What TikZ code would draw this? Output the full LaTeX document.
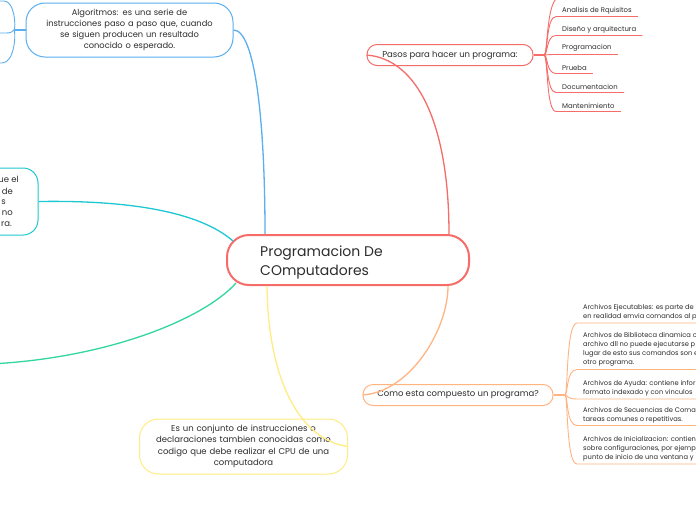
\documentclass[tikz,border=0pt]{standalone}
\usepackage{fontspec}
\setmainfont{Poppins}
\usetikzlibrary{calc}
\definecolor{ink}{RGB}{45,45,45}
\definecolor{cred}{RGB}{245,108,104}
\definecolor{corange}{RGB}{255,180,130}
\definecolor{cblue}{RGB}{90,175,240}
\definecolor{cteal}{RGB}{30,200,210}
\definecolor{cgreen}{RGB}{50,215,160}
\definecolor{cyellow}{RGB}{255,236,130}
\begin{document}
\begin{tikzpicture}[x={(1pt,0pt)},y={(0pt,-1pt)},
  pill/.style={draw=#1, line width=1pt, rounded corners=10pt, minimum height=21pt, inner sep=0pt, text=ink, font=\fontsize{8.5}{11}\selectfont},
  bigbox/.style={draw=#1, line width=1pt, rounded corners=19pt, inner xsep=8pt, inner ysep=0pt, align=center, text=ink, font=\fontsize{8.3}{11}\selectfont},
  leaf/.style={anchor=south west, inner xsep=6pt, inner ysep=2.5pt, align=left, text=ink, font=\fontsize{6.9}{9}\selectfont},
  cleaf/.style={leaf, font=\fontsize{6.7}{9}\selectfont},
  frag/.style={anchor=east, inner sep=0pt, text=ink, font=\fontsize{8.5}{11}\selectfont},
  conn/.style={draw=#1, line width=1.3pt},
  thin/.style={draw=#1, line width=0.9pt},
]
\useasboundingbox[fill=white] (0,0) rectangle (696,520);

% central node
\node[draw=cred, line width=2pt, rounded corners=22pt, minimum width=242pt, minimum height=50pt] (root) at (348,260) {};
\node[anchor=west, align=left, inner sep=0pt, text=ink, font=\fontsize{14}{19}\selectfont] (roottxt) at (260,262) {Programacion De\\COmputadores};

% first-level nodes
\node[pill=cred, minimum width=166pt] (pasos) at (450,55) {Pasos para hacer un programa:};
\node[pill=corange, minimum width=190pt] (como) at (458,395) {Como esta compuesto un programa?};
\node[bigbox=cblue, minimum width=207pt, minimum height=54pt, text width=191pt] (algo) at (129.5,30)
  {Algoritmos: es una serie de\\instrucciones paso a paso que, cuando\\se siguen producen un resultado\\conocido o esperado.};
\node[bigbox=cyellow, minimum width=208pt, minimum height=55pt, text width=192pt, font=\fontsize{8.5}{11.5}\selectfont] (yel) at (243.5,446.5)
  {Es un conjunto de instrucciones o\\declaraciones tambien conocidas como\\codigo que debe realizar el CPU de una\\computadora};
\node[draw=cteal, line width=1pt, rounded corners=15pt, minimum width=240pt, minimum height=67pt] (teal) at (-82,201.5) {};
\node[frag] (tl1) at (19,179) {ue el};
\node[frag] (tl2) at (13,191) {de};
\node[frag] (tl3) at (6,202) {s};
\node[frag] (tl4) at (13,213) {no};
\node[frag] (tl5) at (12,224.5) {ra.};

% connectors from the centre
\draw[conn=cred] (pasos.west) .. controls (418,59) and (449,125) .. ([xshift=101pt]root.north);
\draw[conn=corange] ([xshift=100pt]root.south) .. controls (448,330) and (410,392) .. (como.west);
\draw[conn=cblue] (algo.east) .. controls (255,30) and (265,120) .. ([xshift=-83pt]root.north);
\draw[conn=cteal] (teal.east) .. controls (130,200) and (200,212) .. ($(root.west)+(7,-19)$);
\coordinate (gend) at (-10,364);
\draw[conn=cgreen] ($(root.west)+(10,23)$) .. controls (205,318) and (110,358) .. (gend);
\draw[conn=cyellow] ([xshift=-81pt]root.south) .. controls (268,380) and (300,440) .. (yel.east);

% Pasos children
\coordinate (pj) at (544,55);
\draw[line width=1.6pt, cred] (pasos.east) -- (pj);
\node[leaf] (p1) at (556,16.5) {Analisis de Rquisitos};
\node[leaf] (p2) at (556,35.5) {Diseño y arquitectura};
\node[leaf] (p3) at (556,54.5) {Programacion};
\node[leaf] (p4) at (556,73.5) {Prueba};
\node[leaf] (p5) at (556,92.5) {Documentacion};
\node[leaf] (p6) at (556,111.5) {Mantenimiento};
\foreach \n/\yy in {p1/16.5,p2/35.5,p3/54.5,p4/73.5,p5/92.5,p6/111.5}{
  \draw[thin=cred] (pj) .. controls (548,55) and (546,\yy) .. (\n.south west) -- (\n.south east);
}
\coordinate (ptop) at (560,-3);
\draw[thin=cred] (pj) .. controls (548,55) and (546,-3) .. (ptop);

% Como children
\coordinate (cj) at (565,395);
\draw[line width=1.6pt, corange] (como.east) -- (cj);
\node[cleaf] (c1) at (577,323) {Archivos Ejecutables: es parte de\\en realidad emvia comandos al p};
\node[cleaf] (c2) at (577,369.5) {Archivos de Biblioteca dinamica c\\archivo dll no puede ejecutarse p\\lugar de esto sus comandos son e\\otro programa.};
\node[cleaf] (c3) at (577,399) {Archivos de Ayuda: contiene infor\\formato indexado y con vinculos};
\node[cleaf] (c4) at (577,425.5) {Archivos de Secuencias de Coma\\tareas comunes o repetitivas.};
\node[cleaf] (c5) at (577,464) {Archivos de Inicializacion: contien\\sobre configuraciones, por ejemp\\punto de inicio de una ventana y};
\foreach \n/\yy in {c1/323,c2/369.5,c3/399,c4/425.5,c5/464}{
  \draw[thin=corange] (cj) .. controls (568,395) and (566,\yy) .. (\n.south west) -- ([xshift=40pt]\n.south east);
}

% Algoritmos children (off canvas)
\coordinate (aj) at (14,30);
\coordinate (a1) at (-20,1);
\coordinate (a2) at (-20,33);
\coordinate (a3) at (-20,63);
\draw[line width=1.3pt, cblue] (algo.west) -- (aj);
\draw[thin=cblue] (aj) .. controls (16,28) and (15,1) .. (4,1) -- (a1);
\draw[thin=cblue] (aj) .. controls (12,30) and (14,33) .. (6,33) -- (a2);
\draw[thin=cblue] (aj) .. controls (16,32) and (15,63) .. (2,63) -- (a3);
\end{tikzpicture}
\end{document}
